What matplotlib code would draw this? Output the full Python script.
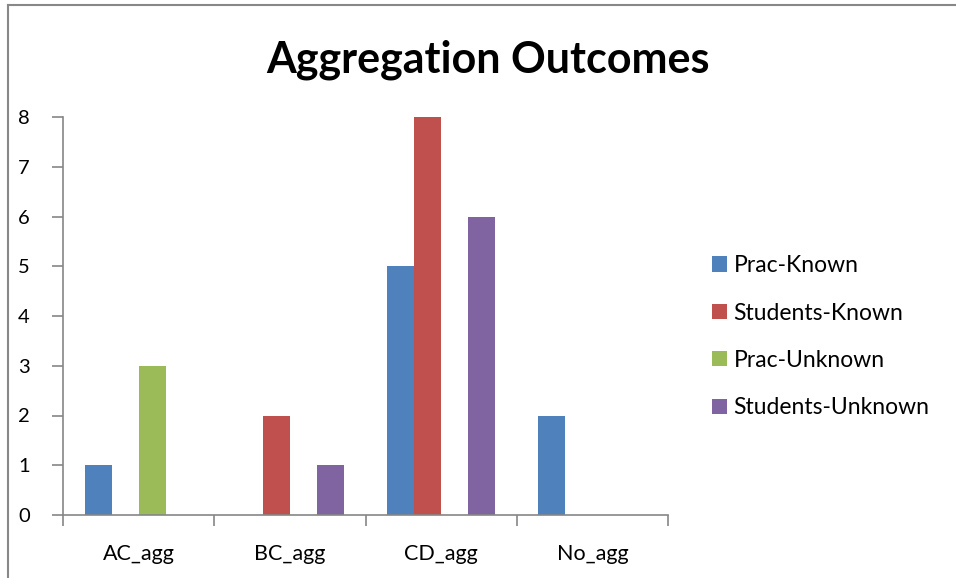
import matplotlib
matplotlib.use("Agg")
import matplotlib.pyplot as plt
import numpy as np
from matplotlib.lines import Line2D

categories = ["AC_agg", "BC_agg", "CD_agg", "No_agg"]
series_names = ["Prac-Known", "Students-Known", "Prac-Unknown", "Students-Unknown"]
prac_known = [1, 0, 5, 2]
students_known = [0, 2, 8, 0]
prac_unknown = [3, 0, 0, 0]
students_unknown = [0, 1, 6, 0]
colors = ["#4F81BD", "#C0504D", "#9BBB59", "#8064A2"]
y_ticks = [0, 1, 2, 3, 4, 5, 6, 7, 8]

plt.rcParams['font.family'] = ['Lato', 'DejaVu Sans']

W, H = 956, 578
fig = plt.figure(figsize=(W / 100, H / 100), dpi=100)
ax = fig.add_axes([63 / W, 1 - 515 / H, (668 - 63) / W, (515 - 117) / H])

values = [prac_known, students_known, prac_unknown, students_unknown]
x = np.arange(len(categories))
bw = 27 / 151
for i, (name, vals) in enumerate(zip(series_names, values)):
    ax.bar(x - 2 * bw + (i + 0.5) * bw, vals, width=bw, color=colors[i], label=name)

ax.set_xlim(-0.5, len(categories) - 0.5)
ax.set_ylim(0, 8)
ax.set_yticks(y_ticks)
ax.set_yticklabels([str(v) for v in y_ticks], fontsize=14.5)
ax.set_xticks(x)
ax.set_xticklabels(categories, fontsize=15.5)
ax.tick_params(axis='x', length=0, pad=21)
ax.set_xticks(np.arange(len(categories) + 1) - 0.5, minor=True)
ax.tick_params(axis='x', which='minor', length=8, color='#868686', width=1.2)
ax.tick_params(axis='y', length=8, color='#868686', width=1.2, pad=16)
for s in ['top', 'right']:
    ax.spines[s].set_visible(False)
for s in ['left', 'bottom']:
    ax.spines[s].set_color('#868686')
    ax.spines[s].set_linewidth(1.2)

fig.text(488 / W, 1 - 72 / H, "Aggregation Outcomes", ha='center', va='baseline',
         fontsize=31, fontweight='bold')

leg = fig.legend(loc='upper left', bbox_to_anchor=(703 / W, 1 - 246 / H), frameon=False,
                 fontsize=16.5, handlelength=0.65, handleheight=0.65, handletextpad=0.28,
                 labelspacing=1.15, borderaxespad=0)

fig.add_artist(Line2D([8 / W, 8 / W], [0, 1 - 5 / H], transform=fig.transFigure, color='#888888', lw=1.5))
fig.add_artist(Line2D([8 / W, 1], [1 - 5 / H, 1 - 5 / H], transform=fig.transFigure, color='#888888', lw=1.5))

fig.savefig("out.png", dpi=100)
